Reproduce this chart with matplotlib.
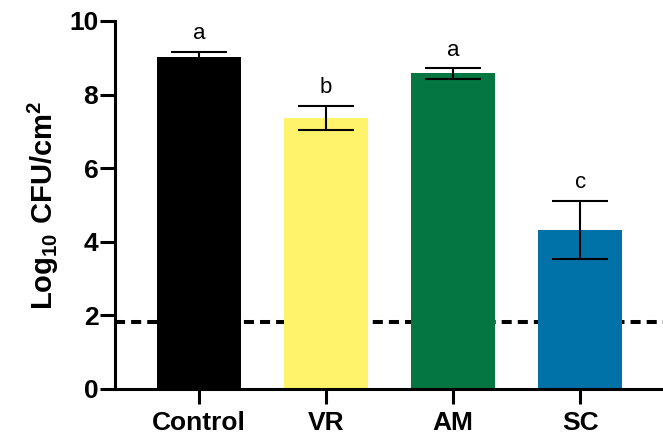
import numpy as np
import matplotlib.pyplot as plt

plt.rcParams['font.family'] = ['Liberation Sans', 'DejaVu Sans']
plt.rcParams['mathtext.fontset'] = 'custom'
plt.rcParams['mathtext.rm'] = 'Liberation Sans'
plt.rcParams['mathtext.bf'] = 'Liberation Sans:bold'

groups = ["Control", "VR", "AM", "SC"]
means = [9.02, 7.37, 8.58, 4.33]
errors = [0.15, 0.33, 0.15, 0.79]
letters = ["a", "b", "a", "c"]
colors = ["#000000", "#FFF36B", "#037642", "#0072A8"]
detection_limit = 1.82

fig = plt.figure(figsize=(6.63, 4.37), dpi=100)
ax = fig.add_axes([0.1735, 0.110, 0.8265, 0.842])

x = np.arange(len(groups))
ax.axhline(detection_limit, color="black", lw=2.9, ls=(0, (2.5, 1.5)), zorder=1)
ax.bar(x, means, width=0.66, color=colors, zorder=2)
ax.errorbar(x, means, yerr=errors, fmt="none", ecolor="black",
            elinewidth=1.5, capsize=20.5, capthick=1.5, zorder=3)

for xi, m, e, lt in zip(x, means, errors, letters):
    ax.text(xi, m + e + 0.33, lt, ha="center", va="baseline", fontsize=16)

ax.set_xlim(-0.66, 3.65)
ax.set_ylim(0, 10)
ax.set_yticks([0, 2, 4, 6, 8, 10])
ax.set_xticks(x)
ax.set_xticklabels(groups, fontweight="bold", fontsize=19)
for lbl in ax.get_yticklabels():
    lbl.set_fontweight("bold")
    lbl.set_fontsize(19)
ax.set_ylabel(r"$\mathbf{Log_{10}\ CFU/cm^2}$", fontsize=21, labelpad=6)

for s in ["top", "right"]:
    ax.spines[s].set_visible(False)
for s in ["left", "bottom"]:
    ax.spines[s].set_linewidth(2.2)
ax.tick_params(axis="y", width=2.2, length=11, direction="out", pad=1)
ax.tick_params(axis="x", width=2.2, length=11, direction="out", pad=5)

fig.savefig("out.png", dpi=100)
